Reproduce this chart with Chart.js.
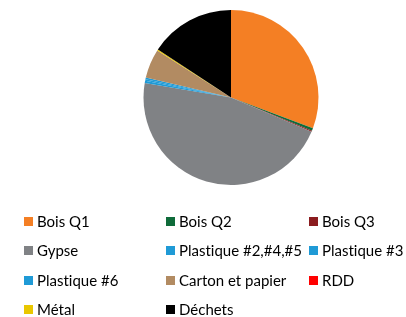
<!DOCTYPE html>
<html>
<head>
<meta charset="utf-8">
<script src="https://cdn.jsdelivr.net/npm/chart.js@4"></script>
<style>
  body { margin: 0; background: #fff; width: 406px; height: 317px; overflow: hidden; position: relative; font-family: Lato, "Open Sans", sans-serif; }
  #wrap { position: absolute; left: 0; top: 0; width: 406px; height: 196px; }
  #legend { position: absolute; left: 0; top: 0; width: 406px; height: 317px; }
  .item { position: absolute; display: flex; align-items: center; font-size: 15px; color: #000; white-space: nowrap; height: 18px; font-variant-ligatures: none; }
  .box { width: 9px; height: 9px; margin-right: 4px; }
</style>
</head>
<body>
<div id="wrap"><canvas id="myChart"></canvas></div>
<div id="legend"></div>
<script>
const labels = [
    'Bois Q1', 'Bois Q2', 'Bois Q3',
    'Gypse', 'Plastique #2,#4,#5', 'Plastique #3',
    'Plastique #6', 'Carton et papier', 'RDD',
    'Métal', 'Déchets'
];
const values = [30.8, 0.5, 0.2, 46.4, 0.4, 0.3, 0.3, 5.4, 0, 0.2, 15.8];
const colors = [
    '#F47F24', '#0F6B3A', '#8B1C1F',
    '#808285', '#1F9AD6', '#1F9AD6',
    '#1F9AD6', '#B28B62', '#FF0000',
    '#E9C700', '#000000'
];

const data = {
    labels: labels,
    datasets: [{
        data: values,
        backgroundColor: colors,
        borderWidth: 0
    }]
};

const config = {
    type: 'pie',
    data,
    options: {
        responsive: true,
        maintainAspectRatio: false,
        animation: false,
        layout: { padding: { left: 56, top: 10, bottom: 11, right: 0 } },
        plugins: {
            legend: { display: false },
            tooltip: { enabled: false }
        }
    }
};

var myChart = new Chart(document.getElementById('myChart'), config);

// legend laid out like the original: 3 columns, 4 rows
const colX = [24, 166, 309];
const rowY = [221, 250, 280, 309];
const legend = document.getElementById('legend');
labels.forEach((lab, i) => {
    const item = document.createElement('div');
    item.className = 'item';
    item.style.left = colX[i % 3] + 'px';
    item.style.top = (rowY[Math.floor(i / 3)] - 9) + 'px';
    const box = document.createElement('span');
    box.className = 'box';
    box.style.background = colors[i];
    item.appendChild(box);
    item.appendChild(document.createTextNode(lab));
    legend.appendChild(item);
});
</script>
</body>
</html>
